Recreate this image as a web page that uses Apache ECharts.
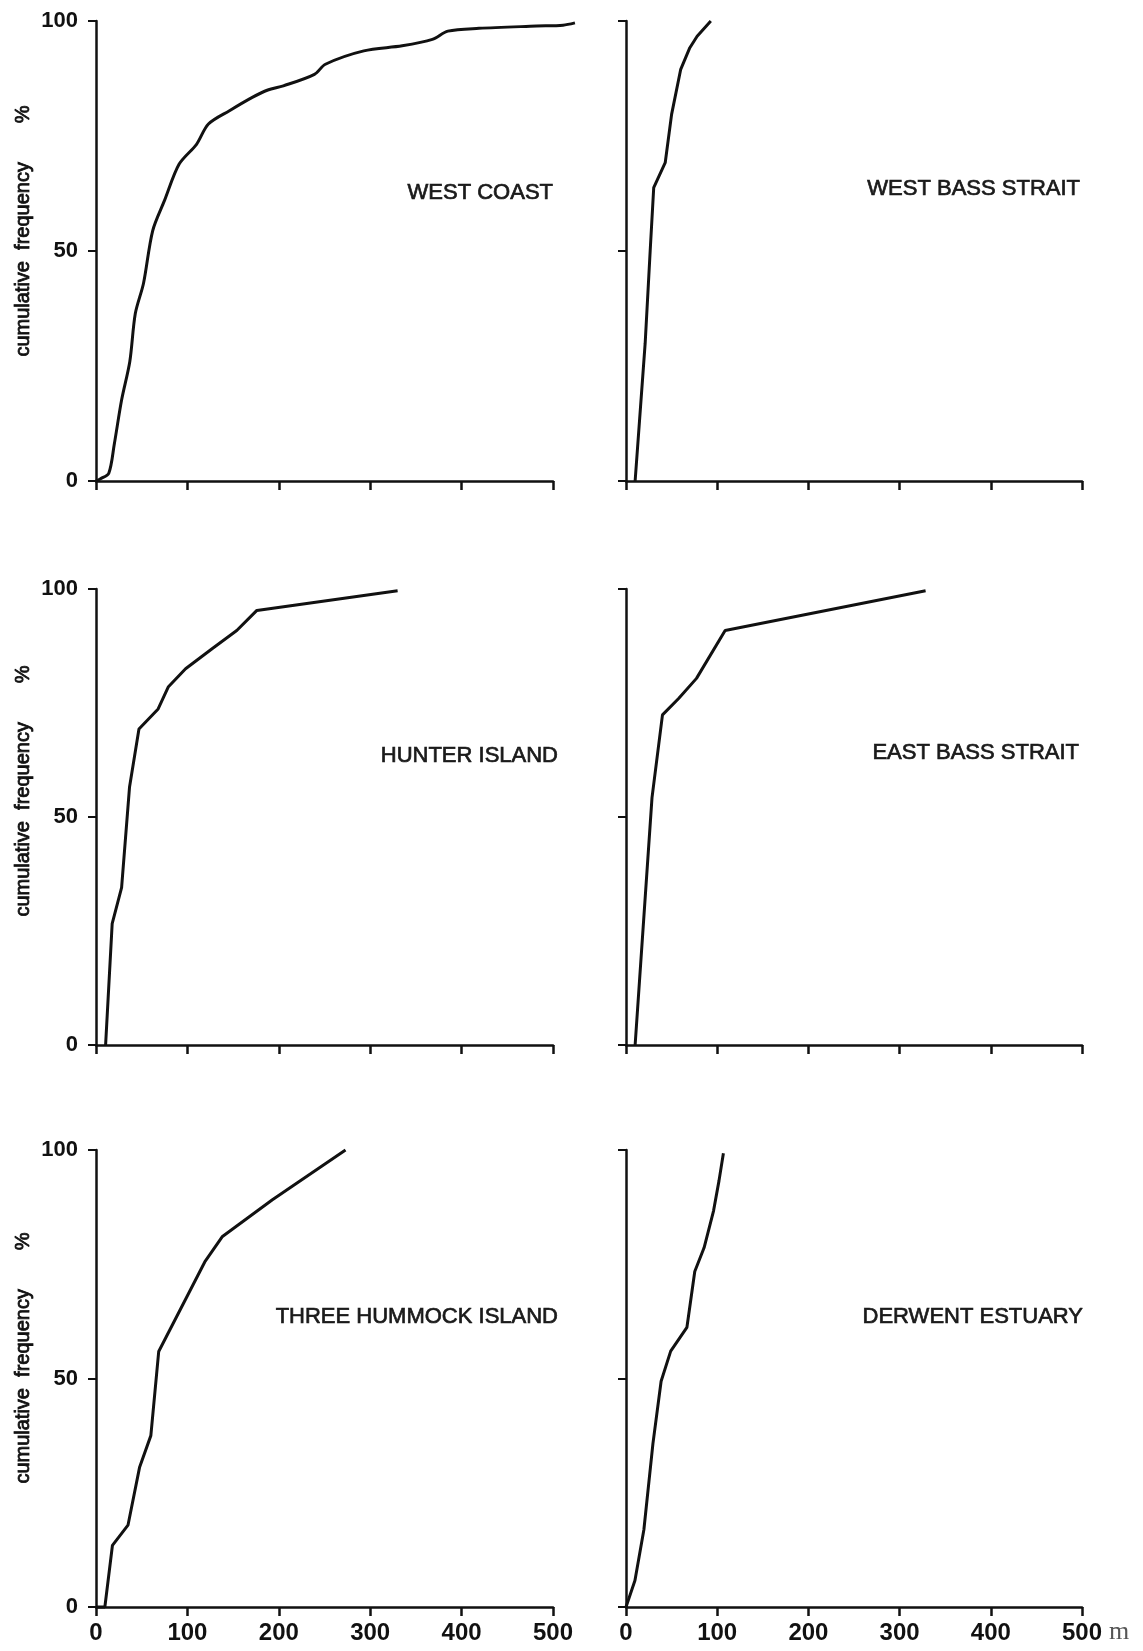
<!DOCTYPE html>
<html>
<head>
<meta charset="utf-8">
<script src="https://cdn.jsdelivr.net/npm/echarts@6/dist/echarts.min.js"></script>
<style>
html,body{margin:0;padding:0;background:#fff;}
#chart{width:1143px;height:1651px;}
</style>
</head>
<body>
<div id="chart"></div>
<script>
// ---- data (distance m, cumulative frequency %) ----
const panelNames = ['WEST COAST','WEST BASS STRAIT','HUNTER ISLAND','EAST BASS STRAIT','THREE HUMMOCK ISLAND','DERWENT ESTUARY'];
const xTicks = [0,100,200,300,400,500];
const yTicks = [0,50,100];
const yTitle = 'cumulative  frequency       %';
const xUnit = 'm';

const westCoastX = [0,5,14,20,28,37,43,52,62,75,91,110,123,146,171,188,205,239,251,293,335,368,385,419,482,511,524];
const westCoastY = [0,0.5,1.7,8,17.6,26,36.4,43,54.4,61,68.9,73.2,77.6,80.5,83.4,85,85.9,88.4,90.6,93.5,94.6,96,97.8,98.4,98.9,99.1,99.6];

const westBassX = [10,21,26.5,30.4,43,50,60,70,78,93];
const westBassY = [0,29.9,50,63.8,69.2,79.7,89.5,94.2,96.7,100];

const hunterX = [10.5,17.7,28,36.7,47,68,79,98,127,154,176,330];
const hunterY = [0,26.6,34.5,56.6,69.3,73.7,78.5,82.5,86.9,90.9,95.3,99.6];

const eastBassX = [10,28.5,40,57.7,77.3,108.7,328.5];
const eastBassY = [0,54.2,72.4,76,80.4,90.9,99.6];

const hummockX = [0,9.7,18,35,47.6,60,68.6,100,119,138,193,273];
const hummockY = [0,0,13.5,17.9,30.5,37.5,55.9,68.1,75.5,81,89.1,100];

const derwentX = [0,9.8,19.6,29.5,38.5,49,66.8,75.4,85.6,96,102,106.8];
const derwentY = [0,5.8,16.9,35.7,49.4,56,61.2,73.4,78.6,86.7,93.3,99.3];

const seriesX = [westCoastX, westBassX, hunterX, eastBassX, hummockX, derwentX];
const seriesY = [westCoastY, westBassY, hunterY, eastBassY, hummockY, derwentY];

// ---- layout ----
const X_MAX = 500, X_PLOT_MAX = 540;
const colLeft = [96, 626];
const colWidth = [457, 456];
const rowTop = [21, 589, 1150];
const rowHeight = [460, 456, 457];
const labelPos = [[553,193],[1080,189],[558,756],[1079,753],[558,1317],[1083,1317]];
const yTitleCenter = [231, 791, 1358];

const FONT = '"Liberation Sans", Arial, Helvetica, sans-serif';
const INK = '#111';

const grids = [], xAxes = [], yAxes = [], series = [], graphics = [];
for (let i = 0; i < 6; i++) {
  const r = Math.floor(i / 2), c = i % 2;
  // visible frame with axes
  grids.push({left: colLeft[c], top: rowTop[r], width: colWidth[c], height: rowHeight[r]});
  xAxes.push({
    type: 'value', gridIndex: i, min: xTicks[0], max: X_MAX, interval: 100,
    axisLine: {show: true, onZero: false, lineStyle: {color: INK, width: 2.5}},
    axisTick: {show: true, inside: false, length: 9, lineStyle: {color: INK, width: 2.5}},
    axisLabel: {show: r === 2, margin: 14, color: INK, fontFamily: FONT, fontSize: 24, fontWeight: 'bold'},
    splitLine: {show: false}
  });
  yAxes.push({
    type: 'value', gridIndex: i, min: yTicks[0], max: yTicks[2], interval: 50,
    axisLine: {show: true, onZero: false, lineStyle: {color: INK, width: 2.5}},
    axisTick: {show: true, inside: false, length: 8, lineStyle: {color: INK, width: 2}},
    axisLabel: {show: c === 0, margin: 18, color: INK, fontFamily: FONT, fontSize: 22, fontWeight: 'bold'},
    splitLine: {show: false}
  });
}
// hidden overlay grids: same scale, wider range so curves may run past 500 m
for (let i = 0; i < 6; i++) {
  const r = Math.floor(i / 2), c = i % 2;
  const gi = 6 + i;
  grids.push({left: colLeft[c], top: rowTop[r], width: colWidth[c] * X_PLOT_MAX / X_MAX, height: rowHeight[r]});
  xAxes.push({type: 'value', gridIndex: gi, min: 0, max: X_PLOT_MAX, show: false});
  yAxes.push({type: 'value', gridIndex: gi, min: 0, max: 100, show: false});
  series.push({
    type: 'line', xAxisIndex: gi, yAxisIndex: gi,
    data: seriesX[i].map((x, k) => [x, seriesY[i][k]]),
    showSymbol: false, symbol: 'none', clip: false, smooth: i === 0 ? 0.3 : false,
    lineStyle: {color: INK, width: 3}, animation: false, z: 3
  });
  graphics.push({
    type: 'text', x: labelPos[i][0], y: labelPos[i][1],
    style: {text: panelNames[i], textAlign: 'right', textVerticalAlign: 'middle',
      font: '22px ' + FONT, fill: '#1a1a1a', stroke: '#1a1a1a', lineWidth: 0.7}
  });
}
for (let r = 0; r < 3; r++) {
  graphics.push({
    type: 'text', x: 23, y: yTitleCenter[r], rotation: Math.PI / 2,
    style: {text: yTitle, textAlign: 'center', textVerticalAlign: 'middle',
      font: '20px ' + FONT, fill: INK, stroke: INK, lineWidth: 0.8}
  });
}
graphics.push({
  type: 'text', x: 1109, y: 1632,
  style: {text: xUnit, textAlign: 'left', textVerticalAlign: 'middle',
    font: '26px "Liberation Serif", "DejaVu Serif", serif', fill: '#555'}
});

const chart = echarts.init(document.getElementById('chart'), null, {renderer: 'canvas'});
chart.setOption({
  animation: false,
  backgroundColor: '#fff',
  grid: grids, xAxis: xAxes, yAxis: yAxes, series: series, graphic: graphics
});
</script>
</body>
</html>
